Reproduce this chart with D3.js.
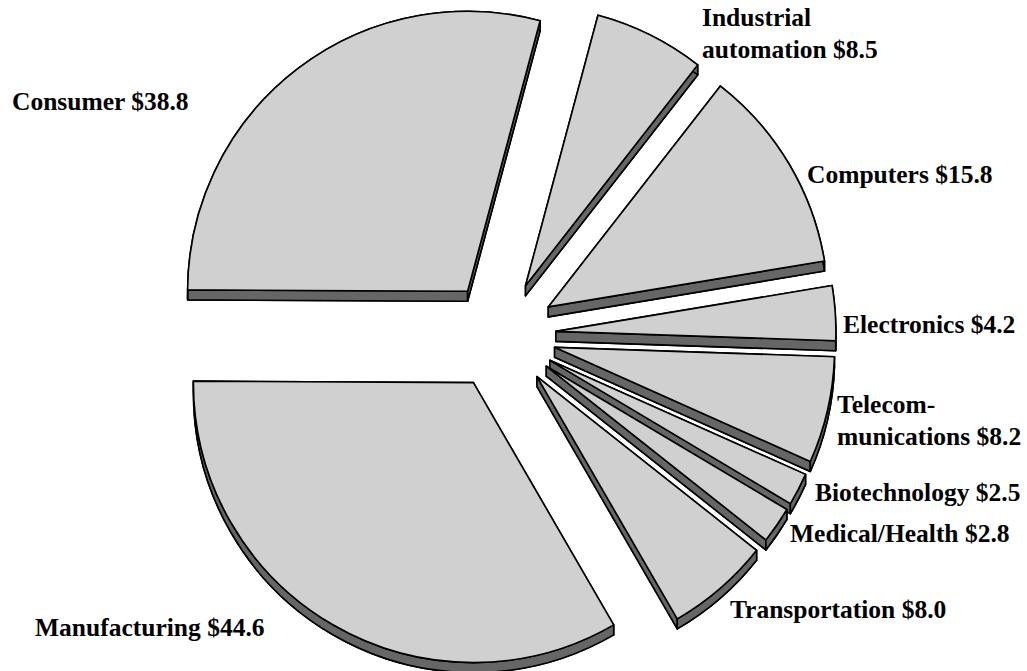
<!DOCTYPE html>
<html><head><meta charset="utf-8">
<script src="https://cdn.jsdelivr.net/npm/d3@7"></script>
<style>html,body{margin:0;padding:0;background:#fff;overflow:hidden}</style>
</head><body>
<svg id="chart" width="1027" height="671"></svg>
<script>
// ---- data ----
const categories = ["Industrial automation","Computers","Electronics","Telecommunications","Biotechnology","Medical/Health","Transportation","Manufacturing","Consumer"];
const values = [8.5, 15.8, 4.2, 8.2, 2.5, 2.8, 8.0, 44.6, 38.8];
const labelLines = [["Industrial","automation"],["Computers"],["Electronics"],["Telecom-","munications"],["Biotechnology"],["Medical/Health"],["Transportation"],["Manufacturing"],["Consumer"]];

// ---- layout (positions / styles) ----
const labelPos = [[702,26],[807,183],[843,333],[837,413],[815,501],[790,542],[730,618],[35,636],[12,110]];
const W = 1027, H = 671;
const cx = 501, cy = 335, R = 280, explode = 55, depth = 10;
const startOffset = 15 * Math.PI / 180;
const topFill = "#d0d0d0", sideFill = "#666666";
const lineH = 32;

const svg = d3.select("#chart");
const rows = categories.map((c, i) => ({cat: c, value: values[i], lines: labelLines[i], pos: labelPos[i]}));

const pie = d3.pie().sort(null).value(d => d.value)
  .startAngle(startOffset).endAngle(startOffset + 2 * Math.PI);
const arcs = pie(rows);
const arcGen = d3.arc().innerRadius(0).outerRadius(R);

arcs.forEach(a => {
  const mid = (a.startAngle + a.endAngle) / 2;
  a.ox = cx + explode * Math.sin(mid);
  a.oy = cy - explode * Math.cos(mid);
});

const order = arcs.slice().sort((p, q) => p.oy - q.oy);

const g = svg.append("g");
order.forEach(a => {
  const grp = g.append("g").attr("transform", `translate(${a.ox},${a.oy})`);
  const a0 = a.startAngle, a1 = a.endAngle;
  const pt = (ang, dy) => [R * Math.sin(ang), -R * Math.cos(ang) + dy];
  // bottom face
  grp.append("path").attr("d", arcGen(a)).attr("transform", `translate(0,${depth})`)
    .attr("fill", sideFill).attr("stroke", "#000").attr("stroke-width", 1.6).attr("stroke-linejoin", "round");
  // radial walls
  [a0, a1].forEach(ang => {
    const c = pt(ang, 0);
    const p = d3.path();
    p.moveTo(0, 0); p.lineTo(c[0], c[1]); p.lineTo(c[0], c[1] + depth); p.lineTo(0, depth); p.closePath();
    grp.append("path").attr("d", p.toString()).attr("fill", sideFill)
      .attr("stroke", "#000").attr("stroke-width", 1.6).attr("stroke-linejoin", "round");
  });
  // outer wall
  const p = d3.path();
  const s = pt(a0, 0);
  p.moveTo(s[0], s[1]);
  p.arc(0, 0, R, a0 - Math.PI / 2, a1 - Math.PI / 2, false);
  const e = pt(a1, depth);
  p.lineTo(e[0], e[1]);
  p.arc(0, depth, R, a1 - Math.PI / 2, a0 - Math.PI / 2, true);
  p.closePath();
  grp.append("path").attr("d", p.toString()).attr("fill", sideFill)
    .attr("stroke", "#000").attr("stroke-width", 1.6).attr("stroke-linejoin", "round");
  // top face
  grp.append("path").attr("d", arcGen(a)).attr("fill", topFill)
    .attr("stroke", "#000").attr("stroke-width", 1.6).attr("stroke-linejoin", "round");
});

// labels
const fmt = d3.format(".1f");
const lab = svg.append("g")
  .attr("font-family", "'Liberation Serif','Times New Roman',Times,serif")
  .attr("font-weight", "bold").attr("font-size", "25.5px").attr("fill", "#000");
rows.forEach(r => {
  const t = lab.append("text").attr("x", r.pos[0]).attr("y", r.pos[1]);
  r.lines.forEach((ln, i) => {
    const txt = i === r.lines.length - 1 ? `${ln} $${fmt(r.value)}` : ln;
    t.append("tspan").attr("x", r.pos[0]).attr("y", r.pos[1] + i * lineH).text(txt);
  });
});
</script>
</body></html>
